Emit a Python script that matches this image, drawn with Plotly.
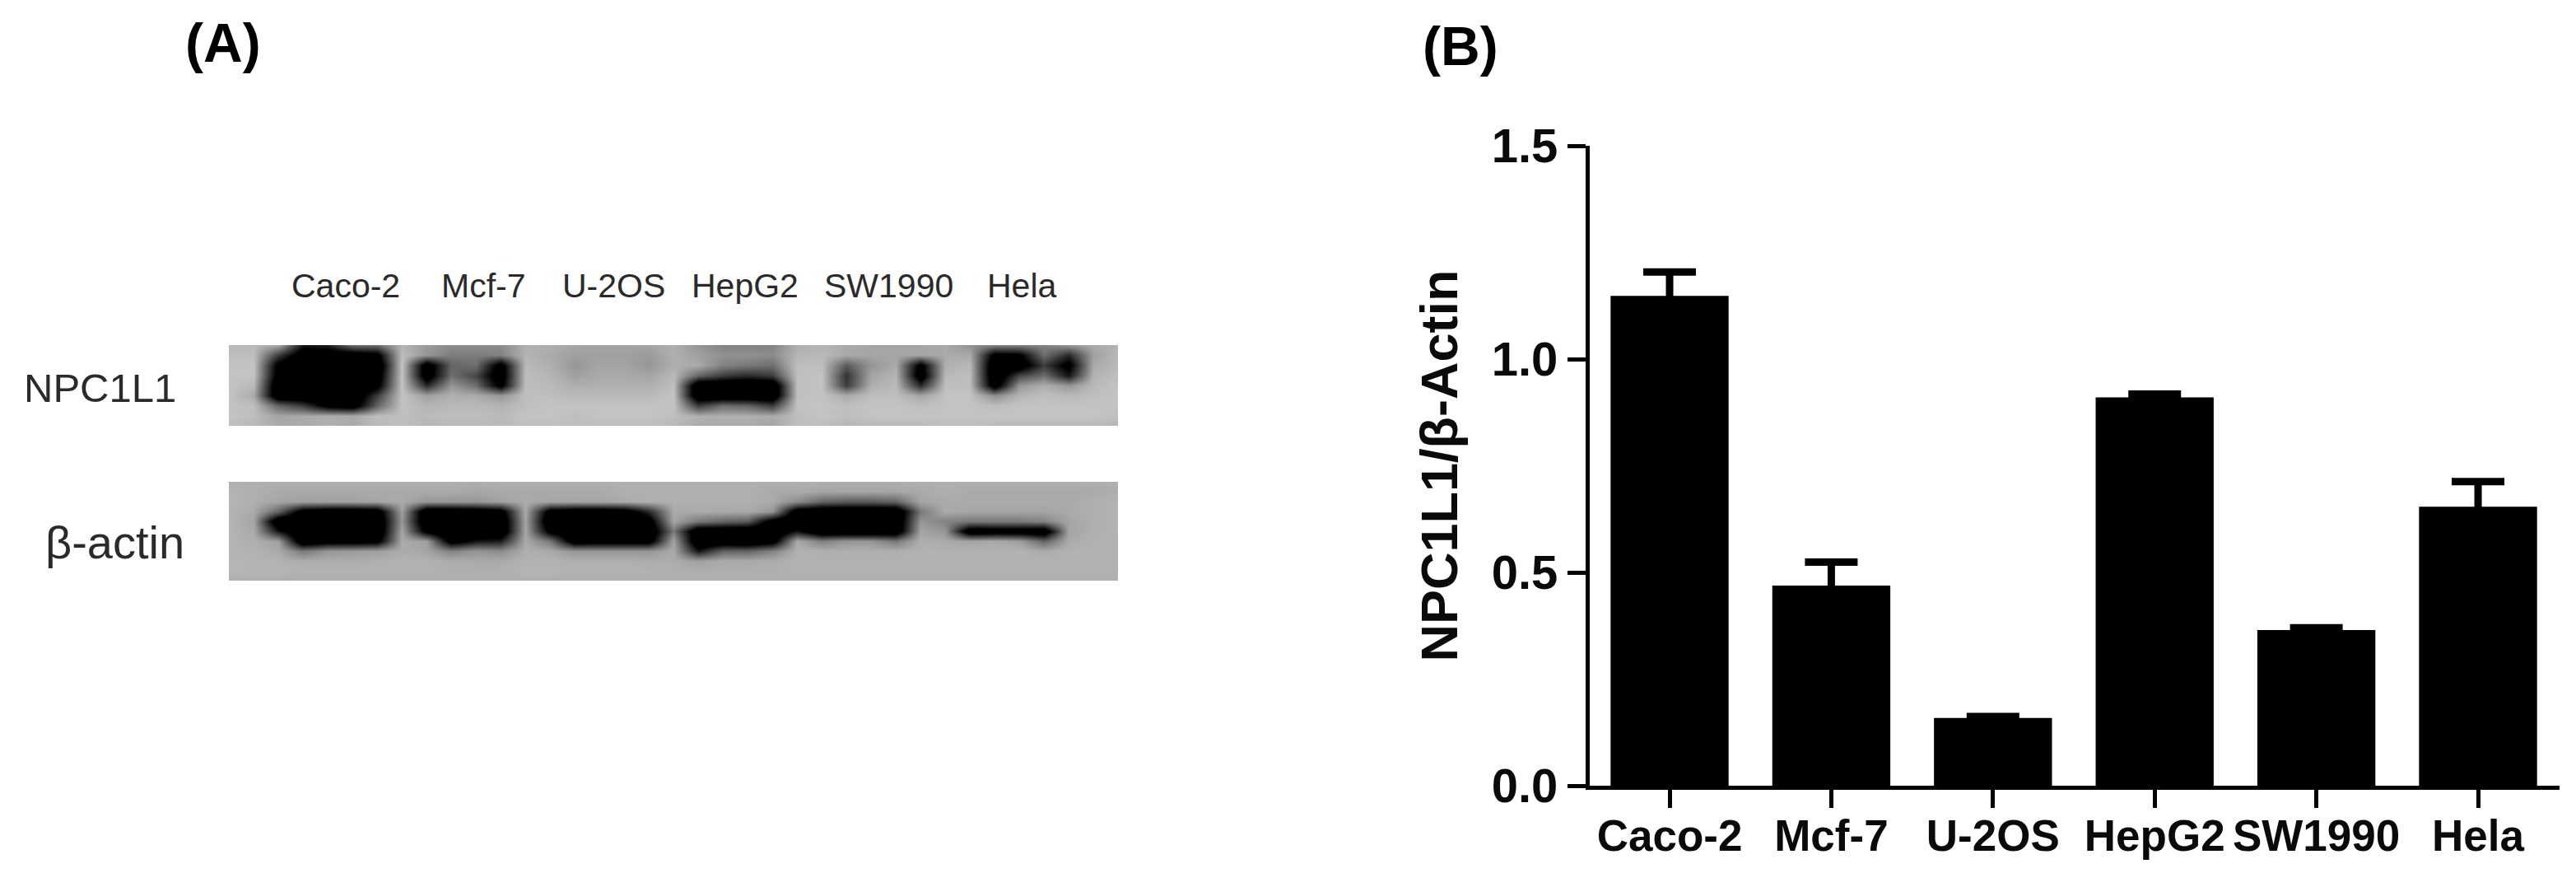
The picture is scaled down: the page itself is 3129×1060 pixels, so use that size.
import plotly.graph_objects as go

W, H = 3129, 1060

categories = ["Caco-2", "Mcf-7", "U-2OS", "HepG2", "SW1990", "Hela"]
ratio_values = [1.148, 0.469, 0.159, 0.91, 0.365, 0.654]
ratio_errors = [0.056, 0.055, 0.003, 0.008, 0.005, 0.059]
y_ticks = [0.0, 0.5, 1.0, 1.5]
y_ticklabels = ["0.0", "0.5", "1.0", "1.5"]
y_title = "NPC1L1/β-Actin"
row_labels = ["NPC1L1", "β-actin"]

# Grey levels read from the two blots (below 0 = saturated band, gives crisp edges)
npc1l1_blot = [
    [185,185,170,20,30,110,110,180,155,140,140,140,175,175,165,165,165,165,175,150,130,130,130,175,180,170,165,165,165,170,145,130,130,130,150,170,180],
    [190,190,60,-40,-40,-40,-20,190,150,125,125,130,180,170,160,160,160,155,175,160,145,145,140,180,185,170,165,165,165,170,170,-20,-10,110,40,160,185],
    [195,195,-20,-60,-60,-60,-60,195,-40,100,110,-30,185,175,150,165,165,150,175,170,130,120,110,190,190,90,150,170,-20,175,185,-60,-40,60,-20,170,185],
    [195,195,-30,-60,-60,-60,-40,195,-40,110,70,-40,190,180,160,170,170,165,185,100,60,40,60,190,195,50,165,180,-40,185,190,-60,70,110,20,180,190],
    [195,185,-60,-60,-60,-60,-20,195,40,150,110,-20,190,185,175,175,175,175,190,-60,-60,-60,-60,190,195,60,175,185,40,190,190,-40,150,175,150,185,195],
    [195,170,-60,-60,-60,-60,60,195,160,175,170,150,190,190,185,185,185,185,195,-60,-60,-60,-60,190,195,170,190,190,165,195,195,140,180,190,185,190,195],
    [195,190,100,60,-20,-40,100,195,180,185,185,180,190,195,195,195,195,195,195,60,110,100,60,195,195,190,195,195,190,195,195,190,195,195,195,195,195],
    [195,190,165,170,175,170,190,190,185,190,190,185,195,195,190,195,195,195,190,175,175,175,170,190,195,190,195,195,195,195,195,195,195,195,195,195,190],
    [190,185,170,170,175,170,185,190,180,185,185,185,190,190,190,190,190,190,185,170,170,170,165,190,190,180,185,185,185,190,190,185,185,185,185,185,180],
]
actin_blot = [
    [175,175,175,175,175,175,175,175,175,175,175,175,175,175,175,175,175,175,175,175,175,175,175,175,175,175,175,175,175,175,175,175,175,175,175,175,175],
    [180,175,170,170,170,170,170,170,170,170,165,170,170,170,170,170,175,175,175,175,175,175,170,170,165,165,165,165,170,175,170,170,170,170,170,170,175],
    [180,175,165,160,160,160,165,170,150,150,150,160,170,165,165,165,170,175,175,175,175,175,170,140,100,90,90,100,165,170,170,170,170,170,170,175,178],
    [180,170,100,-30,-50,-50,-40,160,-60,-60,-50,-30,170,-30,-50,-50,-40,40,170,170,170,170,150,-40,-60,-60,-60,-60,120,170,165,165,165,165,170,175,178],
    [180,165,-60,-60,-60,-60,-60,150,-60,-60,-60,-60,165,-60,-60,-60,-60,-30,165,120,100,90,-30,-50,-60,-60,-60,-60,150,130,120,120,120,130,165,175,178],
    [180,170,20,-60,-60,-60,-60,165,-20,-60,-60,-60,165,-20,-60,-60,-60,-60,120,-60,-60,-60,-60,20,-60,-60,-60,-50,165,150,-50,-40,-40,-50,165,175,178],
    [180,175,160,-60,-30,-30,-20,170,160,-30,20,30,170,120,-40,-30,-30,-30,165,-60,-50,-60,-30,170,130,150,150,120,175,170,165,170,160,100,170,178,178],
    [180,178,170,120,150,155,160,172,165,130,150,140,175,170,150,150,150,150,170,20,100,100,130,178,175,175,175,175,178,178,178,178,178,172,178,178,178],
    [182,180,178,172,172,172,175,178,178,172,170,170,178,178,175,175,175,172,172,160,170,170,172,178,178,178,178,178,178,178,178,178,178,178,178,178,178],
    [182,180,180,178,178,178,178,178,178,175,175,175,180,180,178,178,178,178,175,175,175,175,175,178,178,178,178,178,178,178,178,178,178,178,178,178,178],
    [175,175,175,175,175,175,175,175,175,175,175,175,175,175,175,175,175,175,175,175,175,175,175,175,175,175,175,175,175,175,175,175,175,175,175,175,175],
]

def xdom(a, b):
    return [a / W, b / W]

def ydom(top, bottom):
    return [1 - bottom / H, 1 - top / H]

grey = [[0, "#000000"], [1, "#ffffff"]]
fig = go.Figure()

fig.add_trace(go.Bar(
    x=list(range(len(categories))), y=ratio_values, width=0.73,
    marker=dict(color="#000000", line=dict(width=0)),
    error_y=dict(type="data", symmetric=True, array=ratio_errors,
                 color="#000000", thickness=9, width=32),
    xaxis="x", yaxis="y", hoverinfo="skip",
))
fig.add_trace(go.Heatmap(z=npc1l1_blot, zmin=0, zmax=255, colorscale=grey, showscale=False,
                         zsmooth="best", xaxis="x2", yaxis="y2", hoverinfo="skip"))
fig.add_trace(go.Heatmap(z=actin_blot, zmin=0, zmax=255, colorscale=grey, showscale=False,
                         zsmooth="best", xaxis="x3", yaxis="y3", hoverinfo="skip"))

hidden = dict(visible=False, fixedrange=True, automargin=False)
bold = dict(family="Liberation Sans", color="#0a0a0a", weight=700)
fig.update_layout(
    template="none",
    width=W, height=H, margin=dict(l=0, r=0, t=0, b=0, pad=0),
    paper_bgcolor="white", plot_bgcolor="rgba(0,0,0,0)", showlegend=False,
    xaxis=dict(domain=xdom(1931, 3109), range=[-0.494, 5.504], tickmode="array",
               tickvals=list(range(6)), ticktext=categories, tickangle=0, automargin=False,
               showline=True, linecolor="#000", linewidth=5, ticks="outside", ticklen=22,
               tickwidth=5, tickcolor="#000", showgrid=False, zeroline=False,
               ticklabelstandoff=-12,
               tickfont=dict(size=53, **bold), anchor="y"),
    yaxis=dict(domain=ydom(177, 954), range=[0, 1.5], tickmode="array", tickvals=y_ticks,
               ticktext=y_ticklabels, showline=True, linecolor="#000", linewidth=5, automargin=False,
               ticks="outside", ticklen=22, tickwidth=5, tickcolor="#000", showgrid=False,
               zeroline=False, tickfont=dict(size=58, **bold), anchor="x",
               title=dict(text=y_title, font=dict(size=63, **bold), standoff=22)),
    xaxis2=dict(domain=xdom(278, 1358), range=[0, 36], anchor="y2", **hidden),
    yaxis2=dict(domain=ydom(419, 517), range=[8, 0], anchor="x2", **hidden),
    xaxis3=dict(domain=xdom(278, 1358), range=[0, 36], anchor="y3", **hidden),
    yaxis3=dict(domain=ydom(585, 705), range=[10, 0], anchor="x3", **hidden),
    # full-canvas helper axes for the free text labels
    xaxis4=dict(domain=[0, 1], range=[0, W], anchor="y4", **hidden),
    yaxis4=dict(domain=[0, 1], range=[H, 0], anchor="x4", **hidden),
)
fig.add_trace(go.Scatter(x=[0], y=[0], mode="markers", marker=dict(size=1, opacity=0),
                         xaxis="x4", yaxis="y4", hoverinfo="skip"))

def note(text, x, y, size, color="#2a2a2a", weight=400):
    fig.add_annotation(text=text, xref="x4", yref="y4", x=x, y=y,
                       xanchor="center", yanchor="middle", showarrow=False,
                       font=dict(family="Liberation Sans", size=size, color=color, weight=weight))

note("(A)", 271, 52, 66, "#000", 700)
note("(B)", 1774, 56, 66, "#000", 700)
for label, cx in zip(categories, [420, 587, 745, 905, 1079, 1241]):
    note(label, cx, 347, 41)
note(row_labels[0], 121, 471, 49)
note(row_labels[1], 139, 658, 56)

fig.write_html("out.html", config={"displayModeBar": False},
               post_script="document.body.style.margin='0';document.body.style.overflow='hidden';")
